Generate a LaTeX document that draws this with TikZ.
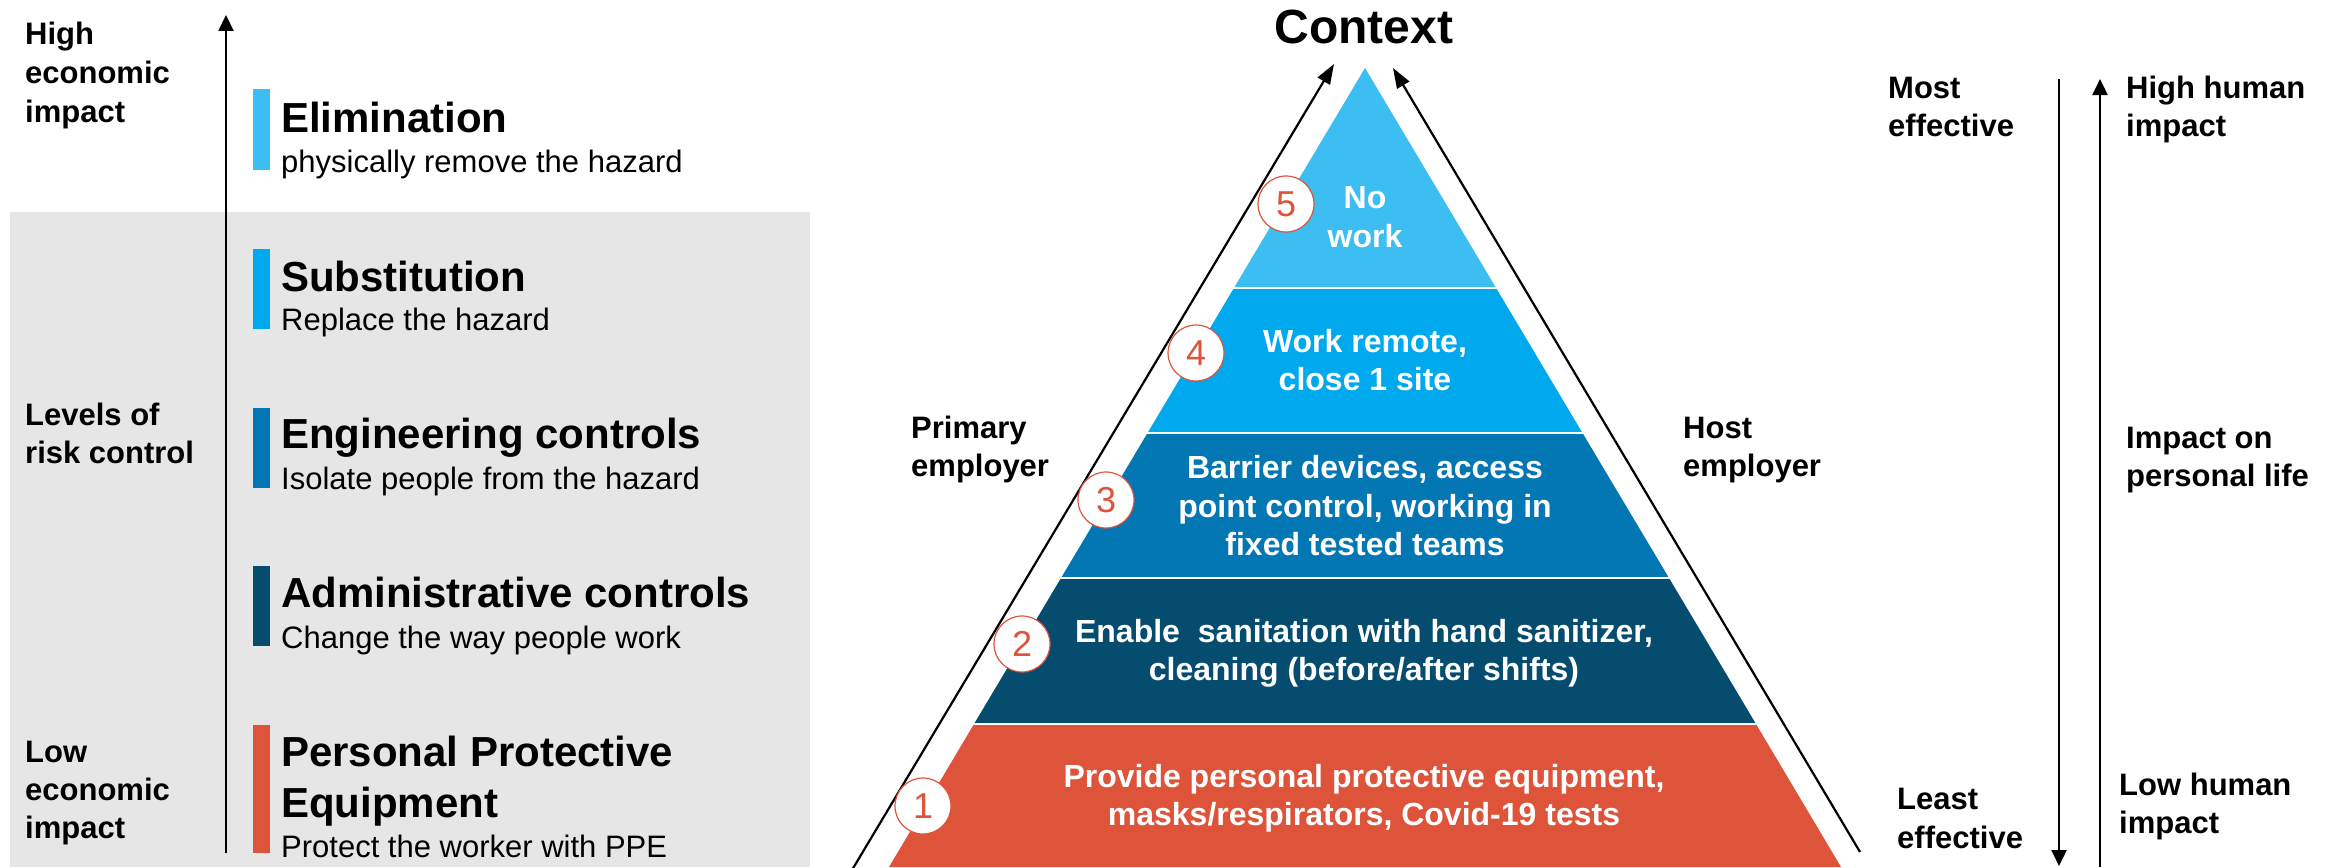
\documentclass[tikz,border=0pt]{standalone}
\usepackage{fontspec}
\setmainfont{Liberation Sans}
\usetikzlibrary{arrows.meta}
\definecolor{cfive}{RGB}{61,190,242}
\definecolor{cfour}{RGB}{0,168,238}
\definecolor{cthree}{RGB}{2,119,179}
\definecolor{ctwo}{RGB}{5,76,111}
\definecolor{cone}{RGB}{222,84,58}
\definecolor{greybg}{RGB}{230,230,230}
\begin{document}
\begin{tikzpicture}[x=1pt,y=-1pt,
  lefthd/.style={font=\fontsize{42}{48}\selectfont\bfseries, anchor=base west, inner sep=0pt},
  leftsub/.style={font=\fontsize{31}{36}\selectfont, anchor=base west, inner sep=0pt},
  lab/.style={font=\fontsize{31}{36}\selectfont\bfseries, anchor=base west, inner sep=0pt},
  pyr/.style={font=\fontsize{32}{38}\selectfont\bfseries, text=white, anchor=base, inner sep=0pt},
  numc/.style={circle, draw=cone, line width=1.2pt, fill=white, minimum size=56pt, inner sep=0pt, font=\fontsize{36}{40}\selectfont, text=cone},
  bar/.style={fill=#1, draw=none},
  arr/.style={line width=2.2pt, -{Triangle[length=20pt,width=14pt]}},
  varr/.style={line width=2.2pt, -{Triangle[length=16pt,width=15pt]}},
  gap/.style={white, line width=2pt}
]
\useasboundingbox (0,0) rectangle (2341,867);
% ---------- left panel ----------
\fill[greybg] (10,212) rectangle (810,867);
\coordinate (lvb) at (226,853);
\coordinate (lvt) at (226,15);
\draw[varr] (lvb) -- (lvt);

\node[lab] (hi1) at (25,45) {High};
\node[lab] (hi2) at (25,84) {economic};
\node[lab] (hi3) at (25,122) {impact};
\node[lab] (lv1) at (25,425) {Levels of};
\node[lab] (lv2) at (25,463) {risk control};
\node[lab] (lo1) at (25,762) {Low};
\node[lab] (lo2) at (25,800) {economic};
\node[lab] (lo3) at (25,838) {impact};

\fill[bar=cfive] (253,89) rectangle (270,170);
\fill[bar=cfour] (253,249) rectangle (270,329);
\fill[bar=cthree] (253,408) rectangle (270,488);
\fill[bar=ctwo] (253,566) rectangle (270,646);
\fill[bar=cone] (253,725) rectangle (270,853);

\node[lefthd] (h1) at (281,132) {Elimination};
\node[leftsub] (s1) at (281,172) {physically remove the hazard};
\node[lefthd] (h2) at (281,291) {Substitution};
\node[leftsub] (s2) at (281,330) {Replace the hazard};
\node[lefthd] (h3) at (281,448) {Engineering controls};
\node[leftsub] (s3) at (281,489) {Isolate people from the hazard};
\node[lefthd] (h4) at (281,607) {Administrative controls};
\node[leftsub] (s4) at (281,648) {Change the way people work};
\node[lefthd] (h5a) at (281,766) {Personal Protective};
\node[lefthd] (h5b) at (281,817) {Equipment};
\node[leftsub] (s5) at (281,857) {Protect the worker with PPE};

% ---------- pyramid ----------
\fill[cfive] (1365,68) -- (1496.1,288) -- (1233.9,288) -- cycle;
\fill[cfour] (1233.9,288) -- (1496.1,288) -- (1582.2,432.5) -- (1147.8,432.5) -- cycle;
\fill[cthree] (1147.8,432.5) -- (1582.2,432.5) -- (1669.0,578) -- (1061.0,578) -- cycle;
\fill[ctwo] (1061.0,578) -- (1669.0,578) -- (1755.7,723.5) -- (974.3,723.5) -- cycle;
\fill[cone] (974.3,723.5) -- (1755.7,723.5) -- (1841,867) -- (889,867) -- cycle;
\draw[gap] (1225,288) -- (1505,288);
\draw[gap] (1140,432.5) -- (1590,432.5);
\draw[gap] (1050,578) -- (1680,578);
\draw[gap] (965,723.5) -- (1765,723.5);

\node[font=\fontsize{48}{52}\selectfont\bfseries, anchor=base, inner sep=0pt] (ctx) at (1364,44) {Context};

\coordinate (la0) at (849,875);
\coordinate (la1) at (1334,64);
\draw[arr] (la0) -- (la1);
\coordinate (ra0) at (1860,852);
\coordinate (ra1) at (1393,68);
\draw[arr] (ra0) -- (ra1);

\node[pyr] (p5a) at (1365,208) {No};
\node[pyr] (p5b) at (1365,247) {work};
\node[pyr] (p4a) at (1365,352) {Work remote,};
\node[pyr] (p4b) at (1365,390) {close 1 site};
\node[pyr] (p3a) at (1365,478) {Barrier devices, access};
\node[pyr] (p3b) at (1365,517) {point control, working in};
\node[pyr] (p3c) at (1365,555) {fixed tested teams};
\node[pyr] (p2a) at (1364,642) {Enable\ \ sanitation with hand sanitizer,};
\node[pyr] (p2b) at (1364,680) {cleaning (before/after shifts)};
\node[pyr] (p1a) at (1364,787) {Provide personal protective equipment,};
\node[pyr] (p1b) at (1364,825) {masks/respirators, Covid-19 tests};

\node[numc] (n5) at (1286,204) {5};
\node[numc] (n4) at (1196,353) {4};
\node[numc] (n3) at (1106,500) {3};
\node[numc] (n2) at (1022,644) {2};
\node[numc] (n1) at (923,806) {1};

\node[lab] (pe1) at (911,438) {Primary};
\node[lab] (pe2) at (911,476) {employer};
\node[lab] (he1) at (1683,438) {Host};
\node[lab] (he2) at (1683,476) {employer};

% ---------- right panel ----------
\node[lab] (me1) at (1888,98) {Most};
\node[lab] (me2) at (1888,136) {effective};
\node[lab] (le1) at (1897,809) {Least};
\node[lab] (le2) at (1897,848) {effective};
\coordinate (da0) at (2059,79);
\coordinate (da1) at (2059,866);
\draw[varr] (da0) -- (da1);
\coordinate (ua0) at (2100,867);
\coordinate (ua1) at (2100,79);
\draw[varr] (ua0) -- (ua1);
\node[lab] (hh1) at (2126,98) {High human};
\node[lab] (hh2) at (2126,136) {impact};
\node[lab] (ip1) at (2126,448) {Impact on};
\node[lab] (ip2) at (2126,486) {personal life};
\node[lab] (lh1) at (2119,795) {Low human};
\node[lab] (lh2) at (2119,833) {impact};
\end{tikzpicture}
\end{document}
